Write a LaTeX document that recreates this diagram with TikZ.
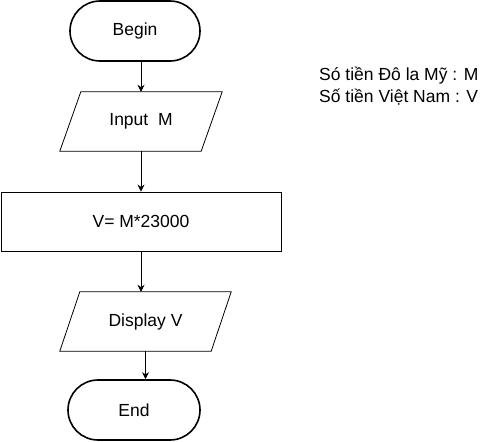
\documentclass[tikz,border=0pt]{standalone}
\usepackage{fontspec}
\setmainfont{Liberation Sans}
\usetikzlibrary{arrows.meta}

\begin{document}
\begin{tikzpicture}[x=1pt,y=-1pt,
		font=\fontsize{17.5}{22}\selectfont,
		term/.style={draw,line width=1.6pt,rounded corners=30pt,minimum width=130pt,minimum height=60pt},
		io/.style={rectangle,minimum height=59pt},
		slant/.style={line width=0.8pt},
		proc/.style={draw,line width=0.8pt,rectangle,minimum width=280pt,minimum height=59pt},
		arr/.style={line width=0.8pt,-{Stealth[length=7pt,width=7pt]}}]
		\useasboundingbox (0,0) rectangle (491,442);

		\draw (135,31) node [term] (begin){Begin};
		\draw (141,121.5) node [io,minimum width=141pt] (input){Input\ \ M};
		\draw (141,221.5) node [proc] (calc){V= M*23000};
		\draw (145.5,321.5) node [io,minimum width=151pt] (display){Display V};
		\draw (134,410) node [term,minimum width=132pt] (end){End};

		\draw (319,86) node [anchor=west,align=left,inner sep=0pt] (note){Só tiền Đô la Mỹ : M\\Số tiền Việt Nam : V};

		% parallelograms round the io nodes
		\draw[slant] ([xshift=10.5pt]input.north west) -- ([xshift=10.5pt]input.north east)
			-- ([xshift=-10.5pt]input.south east) -- ([xshift=-10.5pt]input.south west) -- cycle;
		\draw[slant] ([xshift=10pt]display.north west) -- ([xshift=10pt]display.north east)
			-- ([xshift=-10pt]display.south east) -- ([xshift=-10pt]display.south west) -- cycle;

		\draw[arr] (input.north |- begin.south) -- (input.north);
		\draw[arr] (input.south) -- (input.south |- calc.north);
		\draw[arr] (calc.south) -- (calc.south |- display.north);
		\draw[arr] (display.south) -- (display.south |- end.north);
		;
	\end{tikzpicture}
\end{document}
